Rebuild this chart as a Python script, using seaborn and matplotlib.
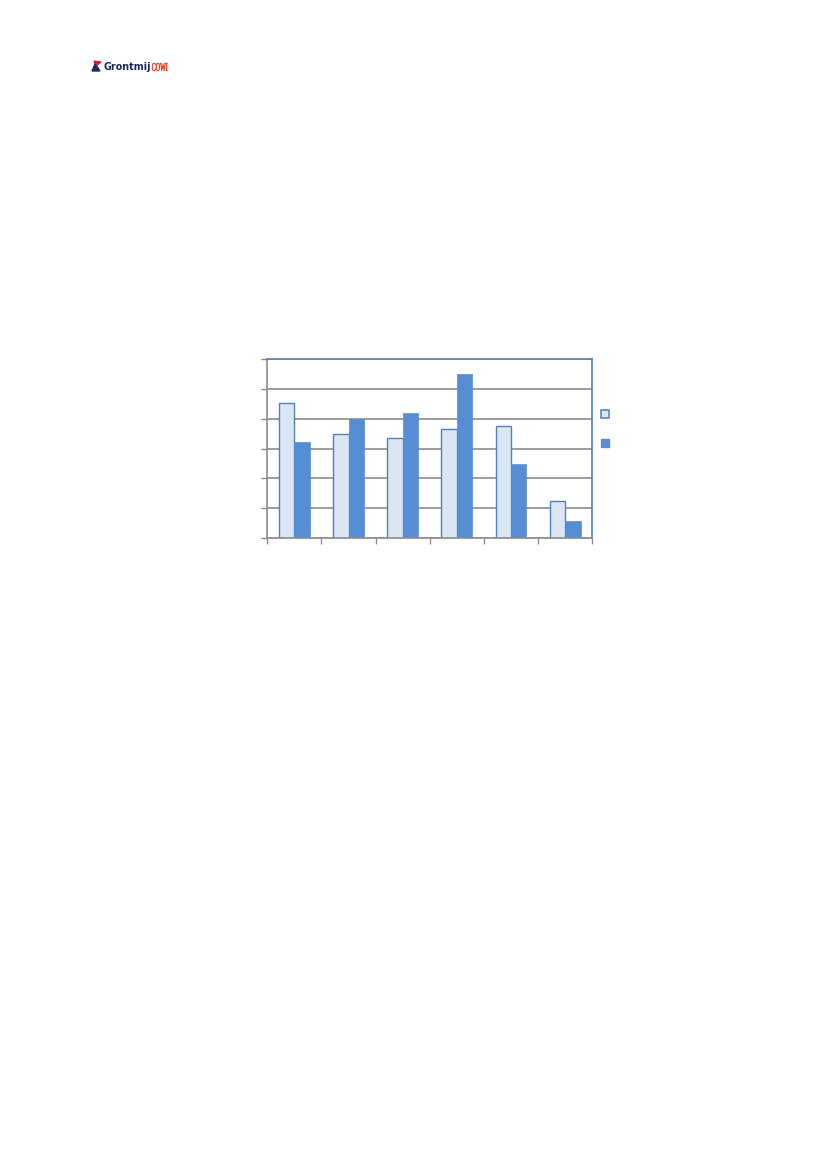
import matplotlib
matplotlib.use("Agg")
import matplotlib.pyplot as plt
from matplotlib.lines import Line2D
from matplotlib.patches import Polygon, PathPatch
from matplotlib.textpath import TextPath
from matplotlib.font_manager import FontProperties
from matplotlib.transforms import Affine2D, IdentityTransform
import seaborn as sns
import pandas as pd

# values (the chart carries no text labels)
categories = ["1", "2", "3", "4", "5", "6"]
series_a = [4.52, 3.48, 3.34, 3.66, 3.75, 1.22]
series_b = [3.23, 3.99, 4.18, 5.51, 2.47, 0.56]
series_names = ["A", "B"]
y_ticks = [0, 1, 2, 3, 4, 5, 6]

light = "#dce6f2"
dark = "#558ed5"
edge = "#4f81bd"
grid_grey = "#8c8c8c"
H = 1169  # page height in px, used for header items

df = pd.DataFrame({
    "cat": categories * 2,
    "val": series_a + series_b,
    "serie": [series_names[0]] * 6 + [series_names[1]] * 6,
})

sns.set_style("white")
fig = plt.figure(figsize=(8.27, 11.69), dpi=100)
ax = fig.add_axes([0.3232, 0.540, 0.393, 0.1526])

sns.barplot(data=df, x="cat", y="val", hue="serie", palette=[light, dark],
            width=0.57, gap=0, ax=ax, legend=False, saturation=1)
for i, p in enumerate(ax.patches):
    if i < 6:
        p.set_edgecolor(edge)
        p.set_linewidth(1.0)
    else:
        p.set_edgecolor(dark)
        p.set_linewidth(0.5)

ax.set_ylim(0, 6)
ax.set_xlim(-0.5, 5.5)
ax.set_yticks(y_ticks)
ax.set_yticklabels([])
ax.set_xticks([i - 0.5 for i in range(7)])
ax.set_xticklabels([])
ax.set_xlabel("")
ax.set_ylabel("")
ax.yaxis.grid(True, color=grid_grey, linewidth=1.2)
ax.set_axisbelow(True)
ax.tick_params(axis="y", left=True, length=4, color=grid_grey, width=1)
ax.tick_params(axis="x", bottom=True, length=4, color=grid_grey, width=1)
ax.spines["left"].set_color(grid_grey)
ax.spines["bottom"].set_color(grid_grey)
ax.spines["top"].set_color(edge)
ax.spines["right"].set_color(edge)
for s in ax.spines.values():
    s.set_linewidth(1.2)

handles = [
    Line2D([], [], marker="s", linestyle="none", markersize=5.5,
           markerfacecolor=light, markeredgecolor=edge, markeredgewidth=1.1),
    Line2D([], [], marker="s", linestyle="none", markersize=5.5,
           markerfacecolor=dark, markeredgecolor=dark),
]
ax.legend(handles, ["", ""], loc="center",
          bbox_to_anchor=(604.5 / 827, 1 - 429 / H),
          bbox_transform=fig.transFigure, frameon=False, handlelength=0.8,
          labelspacing=1.1, handletextpad=0, borderpad=0)

# logo in the page header (pixel coordinates, origin bottom left)
px = IdentityTransform()
fig.patches.append(Polygon([[94, H - 61], [101, H - 62], [96, H - 66]],
                           closed=True, color="#d2232a", transform=px))
fig.patches.append(Polygon([[92, H - 71], [95, H - 64], [98, H - 68], [100, H - 71]],
                           closed=True, color="#1d2b5a", transform=px))
fig.text(103.5 / 827, 1 - 67 / H, "Grontmij", color="#1d2b5a", fontsize=6.9,
         fontweight="bold", va="center", ha="left", family="DejaVu Sans")
cowi = TextPath((0, 0), "COWI", size=10,
                prop=FontProperties(family="Liberation Serif"))
ext = cowi.get_extents()
sx = 15.5 / ext.width
sy = 8.0 / ext.height
fig.patches.append(PathPatch(
    cowi, facecolor="#e8411f", edgecolor="#e8411f", linewidth=0.35,
    transform=Affine2D().translate(-ext.x0, -ext.y0).scale(sx, sy).translate(152, H - 71)))

fig.savefig("out.png", dpi=100)
